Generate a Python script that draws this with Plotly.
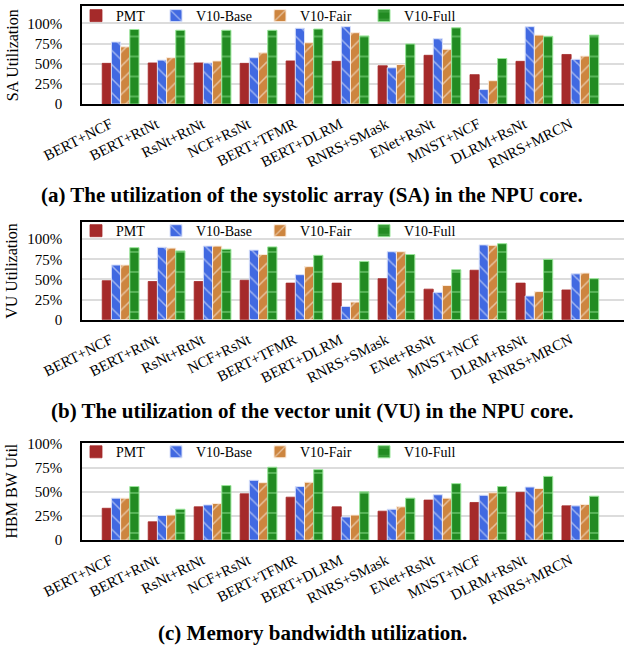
import plotly.graph_objects as go

categories = ["BERT+NCF", "BERT+RtNt", "RsNt+RtNt", "NCF+RsNt", "BERT+TFMR", "BERT+DLRM",
              "RNRS+SMask", "ENet+RsNt", "MNST+NCF", "DLRM+RsNt", "RNRS+MRCN"]
series_names = ["PMT", "V10-Base", "V10-Fair", "V10-Full"]

sa_pmt = [50.5, 51, 51, 50.5, 53.5, 53, 47.5, 60.5, 36.5, 53, 61.5]
sa_base = [77, 54.5, 51, 57.5, 94, 96, 45, 81, 18, 96, 55.5]
sa_fair = [71, 57.5, 53.5, 63.5, 76, 88.5, 49, 68, 29, 85.5, 59.5]
sa_full = [92.5, 91.5, 91.5, 91.5, 93, 84.5, 74.5, 94.5, 56.5, 84, 85.5]

vu_pmt = [48.5, 47.5, 47.5, 49, 45.5, 45.5, 51, 38, 61.5, 45.5, 37]
vu_base = [68, 90, 91.5, 86.5, 56, 16.5, 84.5, 34, 93, 29.5, 57]
vu_fair = [68, 89, 91.5, 81, 66, 22, 84.5, 42.5, 92.5, 35, 58]
vu_full = [89.5, 85.5, 87.5, 90.5, 80, 72.5, 81, 62, 94.5, 75, 51]

bw_pmt = [33, 19, 34.5, 48, 44.5, 34.5, 30, 41.5, 39, 49.5, 35.5]
bw_base = [43.5, 25.5, 36.5, 62, 55.5, 24, 32, 47, 46.5, 55, 35.5]
bw_fair = [43.5, 26, 38, 59.5, 60, 26, 34.5, 43.5, 49, 53.5, 37]
bw_full = [55.5, 32, 56.5, 75.5, 73, 50, 43.5, 58.5, 55.5, 66, 45.5]

y_tickvals = [0, 25, 50, 75, 100]
y_ticktext = ["0", "25%", "50%", "75%", "100%"]

panels = [
    dict(data=[sa_pmt, sa_base, sa_fair, sa_full], title="SA Utilization",
         caption="(a) The utilization of the systolic array (SA) in the NPU core.", ymax=121),
    dict(data=[vu_pmt, vu_base, vu_fair, vu_full], title="VU Utilization",
         caption="(b) The utilization of the vector unit (VU) in the NPU core.", ymax=121.5),
    dict(data=[bw_pmt, bw_base, bw_fair, bw_full], title="HBM BW Util",
         caption="(c) Memory bandwidth utilization.", ymax=100.6),
]

W, H = 624, 646
FONT = "Liberation Serif"

frames = [(2.5, 100.7), (219.3, 317.7), (441.7, 539.5)]
legend_y = [12, 228.5, 451]
caption_y = [192, 410, 632.5]
title_x = 12

styles = [
    dict(color="#A52A2A", line=dict(color="#A52A2A", width=0.8)),
    dict(color="#4169E1", line=dict(color="#D6DFFA", width=1),
         pattern=dict(shape="\\", fgcolor="#FFFFFF", bgcolor="#4169E1", size=10, solidity=0.15)),
    dict(color="#CD853F", line=dict(color="#FBEBDC", width=1),
         pattern=dict(shape="/", fgcolor="#FFFFFF", bgcolor="#CD853F", size=10, solidity=0.15)),
    dict(color="#228B22", line=dict(color="#98E598", width=1),
         pattern=dict(shape="-", fgcolor="#98E598", bgcolor="#228B22", size=20, solidity=0.09)),
]

fig = go.Figure()
x_idx = list(range(len(categories)))
label_pos = [i - 0.22 for i in x_idx]
for p, panel in enumerate(panels):
    sfx = "" if p == 0 else str(p + 1)
    for s, name in enumerate(series_names):
        leg_id = 2 * p + (1 if s == 0 else 2)
        fig.add_trace(go.Bar(
            x=x_idx, y=panel["data"][s], name=name,
            marker=styles[s], xaxis="x" + sfx, yaxis="y" + sfx,
            legend="legend" if leg_id == 1 else "legend" + str(leg_id), showlegend=True,
        ))

layout = dict(
    width=W, height=H, margin=dict(l=0, r=0, t=0, b=0),
    paper_bgcolor="white", plot_bgcolor="white",
    barmode="group", bargap=0.2, bargroupgap=0,
    font=dict(family=FONT, color="black"),
    annotations=[],
)
x0 = 82 / W
for p, panel in enumerate(panels):
    sfx = "" if p == 0 else str(p + 1)
    top, bot = frames[p]
    layout["xaxis" + sfx] = dict(
        domain=[x0, 1], anchor="y" + sfx, range=[-0.84, 10.95],
        tickmode="array", tickvals=label_pos, ticktext=categories, tickangle=-27,
        tickfont=dict(family=FONT, size=15, color="black"),
        showline=True, linecolor="black", linewidth=1.5, mirror=True,
        showgrid=False, ticks="", ticklabelstandoff=4, zeroline=False, automargin=False,
    )
    layout["yaxis" + sfx] = dict(
        domain=[1 - bot / H, 1 - top / H], anchor="x" + sfx, range=[0, panel["ymax"]],
        tickmode="array", tickvals=y_tickvals, ticktext=y_ticktext,
        tickfont=dict(family=FONT, size=15, color="black"),
        showline=True, linecolor="black", linewidth=1.5, mirror=False,
        showgrid=True, gridcolor="#DCDCDC", gridwidth=1.5,
        ticks="", ticklabelstandoff=15, zeroline=False, automargin=False,
    )
    l1 = "legend" if p == 0 else "legend" + str(2 * p + 1)
    l2 = "legend" + str(2 * p + 2)
    layout[l1] = dict(
        orientation="h", x=76 / W, xanchor="left", y=1 - legend_y[p] / H, yanchor="middle",
        bgcolor="rgba(255,255,255,0)", font=dict(family=FONT, size=14, color="black"),
        itemclick=False, itemdoubleclick=False,
    )
    layout[l2] = dict(
        orientation="h", x=156 / W, xanchor="left", y=1 - legend_y[p] / H, yanchor="middle",
        bgcolor="rgba(255,255,255,0)", font=dict(family=FONT, size=14, color="black"),
        entrywidth=59, entrywidthmode="pixels",
        itemclick=False, itemdoubleclick=False,
    )
    layout["annotations"].append(dict(
        text=panel["title"], x=title_x / W, y=1 - (top + bot) / 2 / H,
        xref="paper", yref="paper", textangle=-90, showarrow=False,
        font=dict(family=FONT, size=16, color="black"), xanchor="center", yanchor="middle",
    ))
    layout["annotations"].append(dict(
        text="<b>" + panel["caption"] + "</b>", x=312 / W, y=1 - caption_y[p] / H,
        xref="paper", yref="paper", showarrow=False,
        font=dict(family=FONT, size=21, color="black"), xanchor="center", yanchor="middle",
    ))

fig.update_layout(**layout)
fig.write_html("out.html", config={"displayModeBar": False},
               post_script="document.body.style.margin='0';document.body.style.overflow='hidden';")
